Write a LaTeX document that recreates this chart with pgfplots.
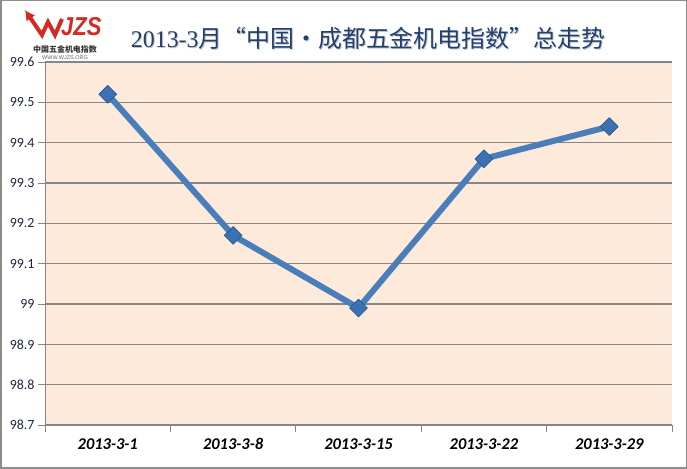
\documentclass[border=0pt]{standalone}
\usepackage{fontspec}
\setmainfont{Carlito}
\newfontfamily\cjk{Noto Sans CJK SC}
\newfontfamily\tnr{Liberation Serif}
\newfontfamily\arial{Liberation Sans}
\usepackage{pgfplots}
\pgfplotsset{compat=1.18}
\usetikzlibrary{arrows.meta}

\definecolor{framegray}{HTML}{8C8C8C}
\definecolor{gridgray}{HTML}{868686}
\definecolor{peach}{HTML}{FDEADA}
\definecolor{lineblue}{HTML}{4A7EBB}
\definecolor{markblue}{HTML}{3C72B5}
\definecolor{markdark}{HTML}{2A568C}
\definecolor{titleblue}{HTML}{223F72}
\definecolor{ticknavy}{HTML}{1B2540}
\definecolor{logored}{HTML}{D42A20}

\begin{document}
\begin{tikzpicture}[x=1bp,y=1bp]
\useasboundingbox (0,0) rectangle (687,469);
\draw[framegray, line width=1.5bp] (0.75,0.75) rectangle (686.25,468.25);

% title with a light shadow
\node[gray!45, font=\fontsize{24}{27}\selectfont] at (369,430)
  {{\tnr 2013-3}{\cjk 月“中国·成都五金机电指数”总走势}};
\node[titleblue, font=\fontsize{24}{27}\selectfont] at (368,431)
  {{\tnr 2013-3}{\cjk 月“中国·成都五金机电指数”总走势}};

% logo
\draw[logored, line width=4bp, line join=miter, -{Latex[length=10bp,width=11bp]}]
  (62,450) -- (55,434) -- (48,447) -- (42,434) -- (25,459);
\node[logored, anchor=west, inner sep=0, font=\arial\bfseries\itshape\fontsize{26}{28}\selectfont, xscale=0.85]
  at (61,442) {JZS};
\node[black!80, inner sep=0, font=\cjk\bfseries\fontsize{8}{9}\selectfont] at (65,420) {中国五金机电指数};
\node[black!60, inner sep=0, font=\arial\fontsize{5.5}{6}\selectfont] at (65,411) {WWW.WJZS.ORG};

\begin{axis}[
    at={(45bp,44bp)}, anchor=south west,
    scale only axis, width=627bp, height=363bp,
    xmin=-0.5, xmax=4.5, ymin=98.7, ymax=99.6,
    axis x line*=bottom, axis y line*=left,
    axis line style={gridgray, line width=1bp},
    axis background/.style={fill=peach},
    xtick={-0.5,0.5,1.5,2.5,3.5,4.5},
    x tick label as interval,
    xticklabels={2013-3-1,2013-3-8,2013-3-15,2013-3-22,2013-3-29},
    xticklabel style={font=\bfseries\itshape\fontsize{16.5}{18}\selectfont, black, yshift=-3bp},
    ytick={98.7,98.8,98.9,99,99.1,99.2,99.3,99.4,99.5,99.6},
    yticklabel style={font=\fontsize{14}{16}\selectfont, ticknavy},
    /pgf/number format/assume math mode=true,
    /pgf/number format/fixed,
    /pgf/number format/precision=1,
    tick align=outside,
    major tick length=7bp,
    tick style={gridgray, line width=0.8bp},
    ymajorgrids,
    grid style={gridgray, line width=1.2bp},
    clip=false,
]
\addplot[color=lineblue, line width=6bp, line join=round,
    mark=square*, mark size=6.3bp,
    mark options={rotate=45, fill=markblue, draw=markdark, line width=0.7bp}]
  coordinates {(0,99.52) (1,99.17) (2,98.99) (3,99.36) (4,99.44)};
\end{axis}
\end{tikzpicture}
\end{document}
